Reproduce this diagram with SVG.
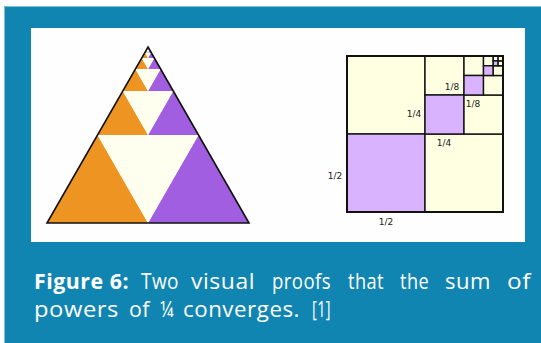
<svg xmlns="http://www.w3.org/2000/svg" xmlns:xlink="http://www.w3.org/1999/xlink" width="541" height="343" viewBox="0 0 541 343">
<style>
.cap{font-family:"Open Sans","DejaVu Sans",sans-serif;font-size:21px;fill:#ffffff;letter-spacing:0.5px}
.b{font-weight:bold}
.lbl{font-family:"DejaVu Sans",sans-serif;font-size:9px;fill:#222;text-anchor:middle}
.sq{stroke:#111;stroke-width:1.4}
.cr{fill:#ffffe1}
.pu{fill:#d9b3fd}
</style>
<defs>
<g id="lvl">
<polygon points="-101,176 0,176 -50.5,88" fill="#ee9422"/>
<polygon points="0,176 101,176 50.5,88" fill="#a25ee1"/>
<polygon points="-50.5,88 50.5,88 0,176" fill="#fffff0"/>
</g>
</defs>
<rect x="0" y="0" width="541" height="343" fill="#ffffff"/>
<rect x="4" y="6" width="537" height="337" fill="#1185b1"/>
<path d="M4.5,343 V6.5 H541" fill="none" stroke="#7cc3da" stroke-width="1"/>
<rect x="31" y="28" width="494" height="214" fill="#fefefe"/>
<g id="triangle">
<polygon points="148,47 249,223 47,223" fill="#fffff0"/>
<use xlink:href="#lvl" transform="translate(148,47)"/>
<use xlink:href="#lvl" transform="translate(148,47) scale(0.5)"/>
<use xlink:href="#lvl" transform="translate(148,47) scale(0.25)"/>
<use xlink:href="#lvl" transform="translate(148,47) scale(0.125)"/>
<use xlink:href="#lvl" transform="translate(148,47) scale(0.0625)"/>
<use xlink:href="#lvl" transform="translate(148,47) scale(0.03125)"/>
<use xlink:href="#lvl" transform="translate(148,47) scale(0.015625)"/>
<polygon points="148,47 249,223 47,223" fill="none" stroke="#111" stroke-width="1.6" stroke-linejoin="miter"/>
</g>
<g id="squares">
<rect class="sq cr" x="347" y="56" width="78" height="78"/>
<rect class="sq pu" x="347" y="134" width="78" height="78"/>
<rect class="sq cr" x="425" y="134" width="78" height="78"/>
<rect class="sq cr" x="425" y="56" width="39" height="39"/>
<rect class="sq pu" x="425" y="95" width="39" height="39"/>
<rect class="sq cr" x="464" y="95" width="39" height="39"/>
<rect class="sq cr" x="464" y="56" width="19.5" height="19.5"/>
<rect class="sq pu" x="464" y="75.5" width="19.5" height="19.5"/>
<rect class="sq cr" x="483.5" y="75.5" width="19.5" height="19.5"/>
<rect class="sq cr" x="483.5" y="56" width="9.75" height="9.75"/>
<rect class="sq pu" x="483.5" y="65.75" width="9.75" height="9.75"/>
<rect class="sq cr" x="493.25" y="65.75" width="9.75" height="9.75"/>
<rect class="sq cr" x="493.25" y="56" width="4.875" height="4.875" stroke-width="1"/>
<rect class="sq pu" x="493.25" y="60.875" width="4.875" height="4.875" stroke-width="1"/>
<rect class="sq cr" x="498.125" y="60.875" width="4.875" height="4.875" stroke-width="1"/>
<rect class="sq cr" x="498.125" y="56" width="4.875" height="4.875" stroke-width="1"/>
<rect x="347" y="56" width="156" height="156" fill="none" stroke="#111" stroke-width="2"/>
<text class="lbl" x="335" y="178.5">1/2</text>
<text class="lbl" x="386" y="224.5">1/2</text>
<text class="lbl" x="414" y="117">1/4</text>
<text class="lbl" x="444" y="146">1/4</text>
<text class="lbl" x="452" y="90">1/8</text>
<text class="lbl" x="473" y="106.7">1/8</text>
</g>
<g id="caption">
<text class="cap b" x="34" y="289" textLength="95" lengthAdjust="spacingAndGlyphs">Figure 6:</text>
<text class="cap" x="141" y="289" textLength="38" lengthAdjust="spacingAndGlyphs">Two</text>
<text class="cap" x="191" y="289" textLength="64" lengthAdjust="spacingAndGlyphs">visual</text>
<text class="cap" x="272" y="289" textLength="59" lengthAdjust="spacingAndGlyphs">proofs</text>
<text class="cap" x="348" y="289" textLength="36" lengthAdjust="spacingAndGlyphs">that</text>
<text class="cap" x="400" y="289" textLength="29" lengthAdjust="spacingAndGlyphs">the</text>
<text class="cap" x="445" y="289" textLength="46" lengthAdjust="spacingAndGlyphs">sum</text>
<text class="cap" x="507" y="289" textLength="24" lengthAdjust="spacingAndGlyphs">of</text>
<text class="cap" x="34" y="317" textLength="85" lengthAdjust="spacingAndGlyphs">powers</text>
<text class="cap" x="129" y="317" textLength="21" lengthAdjust="spacingAndGlyphs">of</text>
<text class="cap" x="160" y="317" textLength="14" lengthAdjust="spacingAndGlyphs">¼</text>
<text class="cap" x="183" y="317" textLength="117" lengthAdjust="spacingAndGlyphs">converges.</text>
<text class="cap" x="312" y="317" textLength="19" lengthAdjust="spacingAndGlyphs">[1]</text>
</g>
</svg>
